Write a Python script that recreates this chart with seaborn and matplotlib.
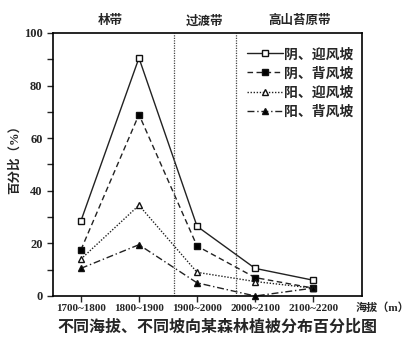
import matplotlib
matplotlib.use("Agg")
import matplotlib.pyplot as plt
from matplotlib.ticker import MultipleLocator
import seaborn as sns
import pandas as pd

sns.set_theme(style="ticks")
plt.rcParams["font.family"] = ["Liberation Serif", "Noto Sans CJK SC"]
plt.rcParams["font.weight"] = "bold"

# Altitude bands (m) and share of vegetation (%) per slope type
altitudes = ["1700~1800", "1800~1900", "1900~2000", "2000~2100", "2100~2200"]
shady_windward = [28.5, 90.5, 26.5, 10.5, 6]
shady_leeward = [17.5, 69, 19, 7, 3]
sunny_windward = [14, 34.5, 9, 5.5, 3]
sunny_leeward = [10.5, 19.5, 5, 0, 3]
series_names = ["阴、迎风坡", "阴、背风坡", "阳、迎风坡", "阳、背风坡"]
zone_names = ["林带", "过渡带", "高山苔原带"]

series_values = [shady_windward, shady_leeward, sunny_windward, sunny_leeward]
rows = []
for name, vals in zip(series_names, series_values):
    for i, (alt, v) in enumerate(zip(altitudes, vals)):
        rows.append({"series": name, "pos": i, "altitude": alt, "value": v})
df = pd.DataFrame(rows)

styles = {
    "阴、迎风坡": dict(marker="s", linestyle="-", markerfacecolor="white"),
    "阴、背风坡": dict(marker="s", linestyle=(0, (4, 2.5)), markerfacecolor="black"),
    "阳、迎风坡": dict(marker="^", linestyle=(0, (1, 1.2)), markerfacecolor="white"),
    "阳、背风坡": dict(marker="^", linestyle=(0, (5, 2, 1, 2)), markerfacecolor="black"),
}

fig = plt.figure(figsize=(4.19, 3.48), dpi=100)
ax = fig.add_axes([53 / 419, 1 - 296 / 348, (362 - 53) / 419, (296 - 33) / 348])

for name in series_names:
    sub = df[df["series"] == name]
    st = styles[name]
    sns.lineplot(data=sub, x="pos", y="value", ax=ax, color="#222222",
                 linewidth=1.0, marker=st["marker"], linestyle=st["linestyle"],
                 markerfacecolor=st["markerfacecolor"], markeredgecolor="#111111",
                 markersize=5, markeredgewidth=1.0, label=name, clip_on=False)

# Zone boundaries
for xb in (1.6, 2.67):
    ax.axvline(xb, color="#444444", linestyle=(0, (1, 1)), linewidth=0.9)

ax.set_xlim(-0.48, 4.84)
ax.set_ylim(0, 100)
ax.set_xticks(range(len(altitudes)))
ax.set_xticklabels(altitudes, fontsize=8, fontweight="bold")
ax.yaxis.set_major_locator(MultipleLocator(20))
ax.yaxis.set_minor_locator(MultipleLocator(10))
ax.tick_params(axis="y", which="major", labelsize=9, length=4, width=1, direction="out")
ax.tick_params(axis="y", which="minor", length=4, width=1, direction="out")
ax.tick_params(axis="x", length=4, width=1, direction="out", pad=2)
for lab in ax.get_yticklabels():
    lab.set_fontweight("bold")
ax.set_xlabel("")
ax.set_ylabel("百分比（%）", fontsize=9, fontweight="bold")
ax.yaxis.set_label_coords(-0.105, 0.53)
for sp in ax.spines.values():
    sp.set_linewidth(1.2)
    sp.set_color("black")

# Zone labels above the plot
for xz, zn in zip([0.5, 2.13, 3.76], zone_names):
    ax.text(xz, 104.5, zn, ha="center", va="center", fontsize=9, fontweight="bold")

fig.text(382 / 419, 1 - 308 / 348, "海拔（m）", ha="center", va="center",
         fontsize=8, fontweight="bold")
fig.text(217 / 419, 1 - 328 / 348, "不同海拔、不同坡向某森林植被分布百分比图",
         ha="center", va="center", fontsize=11.5, fontweight="bold")

leg = ax.legend(loc="upper right", bbox_to_anchor=(1.0, 0.975), frameon=False,
                fontsize=10, handlelength=2.6, handletextpad=0.1,
                labelspacing=0.42, borderaxespad=0.2)
for t in leg.get_texts():
    t.set_fontweight("bold")

fig.savefig("out.png", dpi=100, facecolor="white")
